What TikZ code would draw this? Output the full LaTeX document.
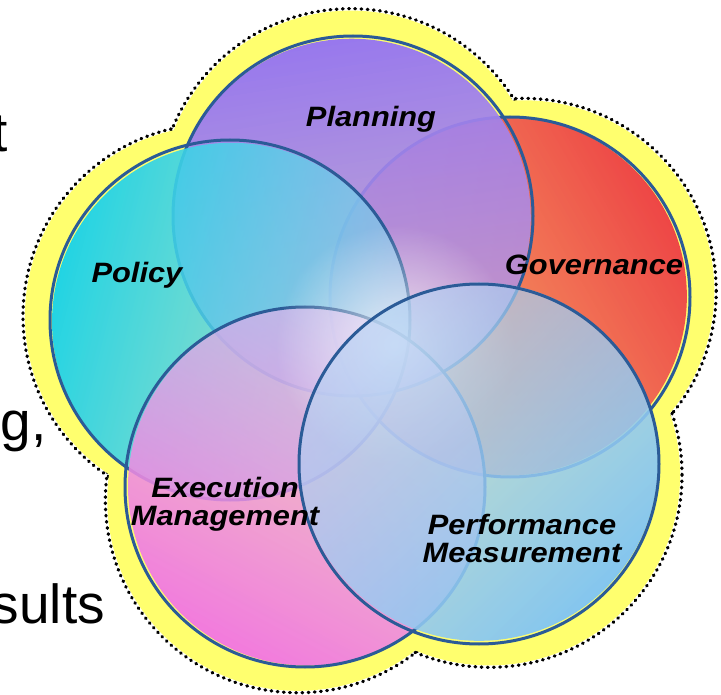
\documentclass[tikz,border=0pt]{standalone}
\usepackage{fontspec}
\setmainfont{Liberation Sans}
\usetikzlibrary{fadings}
\definecolor{ylw}{HTML}{FFFF6E}
\definecolor{ring}{HTML}{2B5B97}
\definecolor{cPlanC}{HTML}{9878EE}
\definecolor{cPlanI}{HTML}{B89CE8}
\definecolor{cPolC}{HTML}{22D4E4}
\definecolor{cPolI}{HTML}{88D0EE}
\definecolor{cGovC}{HTML}{EE4646}
\definecolor{cGovI}{HTML}{F07A62}
\definecolor{cExeC}{HTML}{F27ADE}
\definecolor{cExeI}{HTML}{E6B4EC}
\definecolor{cPerC}{HTML}{84C6F0}
\definecolor{cPerI}{HTML}{B4D2F4}
\tikzfading[name=ringfade, top color=transparent!0, bottom color=transparent!40]
\tikzfading[name=planfade, top color=transparent!0, bottom color=transparent!25]
\tikzfading[name=glowfade, inner color=transparent!25, outer color=transparent!100]
\tikzset{
  ringline/.style={draw=ring, line width=3pt},
  dots/.style={draw=black, line width=3.4pt, line cap=round, dash pattern=on 0.6pt off 5.6pt},
  lbl/.style={font=\fontsize{28}{28}\selectfont\bfseries\itshape, inner sep=0pt, xscale=1.1, align=center},
  side/.style={font=\fontsize{55}{55}\selectfont, inner sep=0pt, anchor=base east}
}
\newcommand{\vennring}[5]{% center, color, angle, inner color, fading
  \shade[top color=#2, bottom color=#4, shading angle=#3, path fading=#5, fading angle=#3] (#1) circle[radius=180pt];
  \draw[ringline] (#1) circle[radius=180pt];
}
\begin{document}
\begin{tikzpicture}[x=1pt,y=-1pt]
\useasboundingbox (0,0) rectangle (721,695);
\clip (0,0) rectangle (721,695);
% yellow backdrop
\coordinate (yPlan) at (350.7,201.2);
\coordinate (yPol) at (215.5,316.3);
\coordinate (yGov) at (523.7,290.9);
\coordinate (yExe) at (297.9,500.2);
\coordinate (yPer) at (489.5,474.8);
\foreach \c in {yPlan,yPol,yGov,yExe,yPer}
  \draw[dots] (\c) circle[radius=192.5pt];
\foreach \c in {yPlan,yPol,yGov,yExe,yPer}
  \fill[ylw] (\c) circle[radius=190.6pt];
% circles
\coordinate (cPlan) at (353,216);
\coordinate (cPol) at (230,320);
\coordinate (cGov) at (510,297);
\coordinate (cExe) at (305,487);
\coordinate (cPer) at (479,464);
\coordinate (glow) at (395,345);
\vennring{cGov}{cGovC}{-60}{cGovI}{ringfade}
\vennring{cPlan}{cPlanC}{9}{cPlanI}{planfade}
\vennring{cPol}{cPolC}{76}{cPolI}{ringfade}
\vennring{cExe}{cExeC}{152}{cExeI}{ringfade}
\fill[white, path fading=glowfade] (glow) circle[radius=120pt];
\vennring{cPer}{cPerC}{-136}{cPerI}{ringfade}
% labels
\node[lbl, anchor=base] (lPlan) at (371,127) {Planning};
\node[lbl, anchor=base] (lPol) at (137,283) {Policy};
\node[lbl, anchor=base] (lGov) at (594,275) {Governance};
\node[lbl, anchor=base] (lExe) at (225,525) {Execution\\Management};
\node[lbl, anchor=base] (lPer) at (522,562) {Performance\\Measurement};
% cropped slide text
\node[side] (t1) at (8,152) {t};
\node[side] (t2) at (47,440) {g,};
\node[side] (t3) at (105,623) {sults};
\end{tikzpicture}
\end{document}
